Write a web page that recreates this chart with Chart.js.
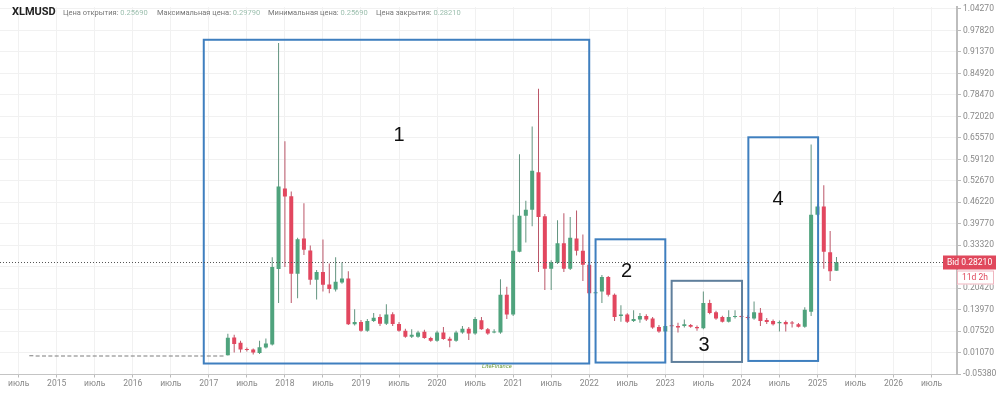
<!DOCTYPE html>
<html>
<head>
<meta charset="utf-8">
<script src="https://cdn.jsdelivr.net/npm/chart.js@4.4.1/dist/chart.umd.min.js"></script>
<style>
  body { margin: 0; background: #fff; }
  #wrap { position: relative; width: 996px; height: 393px; overflow: hidden; }
  #chart { position: absolute; left: 0; top: 0; }
  .hd { position: absolute; top: 8px; font: 7.5px Roboto, sans-serif; color: #777; white-space: nowrap; }
  .hd i { font-style: normal; color: #9cbfae; }
  #sym { position: absolute; left: 12px; top: 5px; font: bold 11px Roboto, sans-serif; color: #222; }
  #logo { position: absolute; left: 482px; top: 362px; font: italic 6px Roboto, sans-serif; color: #6f9c3c; }
</style>
</head>
<body>
<div id="wrap">
  <canvas id="chart" width="996" height="393"></canvas>
  <div id="sym">XLMUSD</div>
  <div class="hd" style="left:63px">Цена открытия: <i>0.25690</i></div>
  <div class="hd" style="left:157px">Максимальная цена: <i>0.29790</i></div>
  <div class="hd" style="left:268px">Минимальная цена: <i>0.25690</i></div>
  <div class="hd" style="left:376px">Цена закрытия: <i>0.28210</i></div>
  <div id="logo">LiteFinance</div>
</div>
<script>
// monthly candles, month 0 = Jan 2015, first candle Sep 2014
const firstMonth = -4;

const opens = [
  0.0028, 0.0027, 0.0027, 0.0027, 0.0027, 0.0027, 0.0027, 0.0027, 0.0027, 0.0027,
  0.0027, 0.0027, 0.0027, 0.0027, 0.0027, 0.0027, 0.0027, 0.0027, 0.0027, 0.0027,
  0.0027, 0.0027, 0.0027, 0.0027, 0.0027, 0.0027, 0.0027, 0.0027, 0.0027, 0.0027, 0.0027,
  0.0028, 0.0567, 0.0410, 0.0200, 0.0204, 0.0095, 0.0263, 0.0352, 0.2620, 0.5035,
  0.4808, 0.2481, 0.3533, 0.3179, 0.2296, 0.2531, 0.2157, 0.2006, 0.2216, 0.2334,
  0.0961, 0.1029, 0.0764, 0.1058, 0.1176, 0.0979, 0.1265, 0.0970, 0.0764, 0.0587,
  0.0587, 0.0734, 0.0549, 0.0469, 0.0714, 0.0528, 0.0469, 0.0714, 0.0823, 0.0684,
  0.1079, 0.0814, 0.0714, 0.0714, 0.1845, 0.1256, 0.3141, 0.4219, 0.4396, 0.5527,
  0.4201, 0.2628, 0.2805, 0.3394, 0.2628, 0.3533, 0.3170, 0.2746, 0.1892, 0.1942,
  0.2384, 0.1845, 0.1206, 0.1256, 0.1058, 0.1108, 0.1206, 0.1138, 0.0882, 0.0743,
  0.0911, 0.0911, 0.0911, 0.0940, 0.0882, 0.0843, 0.1597, 0.1324, 0.1176, 0.1038,
  0.1176, 0.1206, 0.1176, 0.1133, 0.1309, 0.1088, 0.1058, 0.0990, 0.1029, 0.0990,
  0.0961, 0.0890, 0.1338, 0.4248, 0.4496, 0.3120, 0.2569
];
const highs = [
  0.0028, 0.0027, 0.0027, 0.0027, 0.0027, 0.0027, 0.0027, 0.0027, 0.0027, 0.0027,
  0.0027, 0.0027, 0.0027, 0.0027, 0.0027, 0.0027, 0.0027, 0.0027, 0.0027, 0.0027,
  0.0027, 0.0027, 0.0027, 0.0027, 0.0027, 0.0027, 0.0027, 0.0027, 0.0027, 0.0027, 0.0027,
  0.0676, 0.0644, 0.0469, 0.0263, 0.0234, 0.0469, 0.0537, 0.2973, 0.9403, 0.6458,
  0.4947, 0.3562, 0.4593, 0.3326, 0.2590, 0.3503, 0.2788, 0.2973, 0.2826, 0.2552,
  0.1412, 0.1088, 0.1117, 0.1303, 0.1265, 0.1559, 0.1324, 0.1029, 0.0823, 0.0814,
  0.0764, 0.0794, 0.0587, 0.0764, 0.0882, 0.0587, 0.0764, 0.0911, 0.0882, 0.1176,
  0.1176, 0.0852, 0.0814, 0.2316, 0.2089, 0.4248, 0.6066, 0.4672, 0.6899, 0.8030,
  0.4269, 0.2885, 0.4083, 0.4298, 0.4181, 0.4378, 0.3659, 0.2885, 0.1971, 0.2443,
  0.2414, 0.1883, 0.1530, 0.1294, 0.1383, 0.1303, 0.1265, 0.1176, 0.0941, 0.0970,
  0.0955, 0.1008, 0.1108, 0.0970, 0.0926, 0.1942, 0.1697, 0.1368, 0.1220, 0.1383,
  0.1383, 0.1235, 0.1235, 0.1648, 0.1451, 0.1147, 0.1102, 0.1073, 0.1073, 0.1058,
  0.0999, 0.1471, 0.6360, 0.4564, 0.5132, 0.3759, 0.2979
];
const lows = [
  0.0028, 0.0027, 0.0027, 0.0027, 0.0027, 0.0027, 0.0027, 0.0027, 0.0027, 0.0027,
  0.0027, 0.0027, 0.0027, 0.0027, 0.0027, 0.0027, 0.0027, 0.0027, 0.0027, 0.0027,
  0.0027, 0.0027, 0.0027, 0.0027, 0.0027, 0.0027, 0.0027, 0.0027, 0.0027, 0.0027, 0.0027,
  0.0025, 0.0116, 0.0116, 0.0145, 0.0057, 0.0072, 0.0234, 0.0322, 0.1597, 0.2678,
  0.1597, 0.1745, 0.3041, 0.2148, 0.1706, 0.1942, 0.1892, 0.1942, 0.2178, 0.0941,
  0.0926, 0.0734, 0.0734, 0.1029, 0.0911, 0.0941, 0.0911, 0.0734, 0.0558, 0.0549,
  0.0558, 0.0528, 0.0440, 0.0440, 0.0499, 0.0272, 0.0440, 0.0676, 0.0490, 0.0646,
  0.0794, 0.0646, 0.0690, 0.0676, 0.1117, 0.1206, 0.3120, 0.3415, 0.3907, 0.2531,
  0.1992, 0.1992, 0.2767, 0.2531, 0.2590, 0.3023, 0.2257, 0.1854, 0.1854, 0.1597,
  0.1795, 0.1058, 0.1038, 0.0999, 0.1029, 0.1008, 0.1058, 0.0823, 0.0705, 0.0719,
  0.0853, 0.0714, 0.0861, 0.0853, 0.0764, 0.0808, 0.1265, 0.1094, 0.1014, 0.1014,
  0.1138, 0.1132, 0.1094, 0.1094, 0.0911, 0.0970, 0.0926, 0.0743, 0.0743, 0.0861,
  0.0867, 0.0853, 0.1206, 0.4210, 0.2628, 0.2257, 0.2569
];
const closes = [
  0.0028, 0.0027, 0.0027, 0.0027, 0.0027, 0.0027, 0.0027, 0.0027, 0.0027, 0.0027,
  0.0027, 0.0027, 0.0027, 0.0027, 0.0027, 0.0027, 0.0027, 0.0027, 0.0027, 0.0027,
  0.0027, 0.0027, 0.0027, 0.0027, 0.0027, 0.0027, 0.0027, 0.0027, 0.0027, 0.0027, 0.0027,
  0.0558, 0.0372, 0.0204, 0.0190, 0.0116, 0.0272, 0.0381, 0.2678, 0.5094, 0.4799,
  0.2481, 0.3512, 0.3200, 0.2296, 0.2531, 0.2148, 0.2022, 0.2237, 0.2334, 0.0961,
  0.1029, 0.0764, 0.1058, 0.1156, 0.0979, 0.1256, 0.0970, 0.0764, 0.0587, 0.0646,
  0.0714, 0.0549, 0.0469, 0.0714, 0.0519, 0.0469, 0.0714, 0.0823, 0.0684, 0.1117,
  0.0814, 0.0684, 0.0743, 0.1845, 0.1256, 0.3170, 0.4219, 0.4396, 0.5574, 0.4181,
  0.2628, 0.2826, 0.3394, 0.2628, 0.3562, 0.3170, 0.2746, 0.1892, 0.1920, 0.2384,
  0.1845, 0.1176, 0.1256, 0.1038, 0.1117, 0.1206, 0.1108, 0.0861, 0.0743, 0.0911,
  0.0905, 0.0861, 0.0961, 0.0890, 0.0843, 0.1597, 0.1303, 0.1138, 0.1038, 0.1176,
  0.1206, 0.1176, 0.1150, 0.1324, 0.1058, 0.1029, 0.0961, 0.1029, 0.0961, 0.0985,
  0.0890, 0.1396, 0.4248, 0.4496, 0.3141, 0.2552, 0.2821
];

const tickMonths = [-6, 0, 6, 12, 18, 24, 30, 36, 42, 48, 54, 60, 66, 72, 78, 84, 90, 96, 102, 108, 114, 120, 126, 132, 138];
const tickLabels = ['июль', '2015', 'июль', '2016', 'июль', '2017', 'июль', '2018', 'июль', '2019', 'июль', '2020', 'июль',
  '2021', 'июль', '2022', 'июль', '2023', 'июль', '2024', 'июль', '2025', 'июль', '2026', 'июль'];
const yTicks = [-0.0538, 0.0107, 0.0752, 0.1397, 0.2042, 0.2687, 0.3332, 0.3977, 0.4622, 0.5267, 0.5912,
  0.6557, 0.7202, 0.7847, 0.8492, 0.9137, 0.9782, 1.0427];

// highlighted zones: month range and price range
const zoneNames = ['1', '2', '3', '4'];
const zoneStart = [23.2, 85.0, 97.0, 109.1];
const zoneEnd = [84.0, 96.0, 108.1, 120.1];
const zoneTop = [0.9503, 0.3512, 0.2266, 0.6575];
const zoneBottom = [-0.0217, -0.0188, -0.0170, -0.0140];
const zoneLabelMonth = [54.0, 89.9, 102.1, 113.8];
const zoneLabelPrice = [0.6625, 0.2531, 0.0322, 0.4711];

const timeLeft = '11d 2h';

const upColor = '#4fa37d';
const downColor = '#e2475f';
const flatColor = '#7c7c7c';
const months = opens.map((_, i) => firstMonth + i);
const candleColor = i => closes[i] > opens[i] ? upColor : (closes[i] < opens[i] ? downColor : flatColor);
const wickColor = i => closes[i] > opens[i] ? '#62947f' : (closes[i] < opens[i] ? '#bb5668' : flatColor);
const bid = closes[closes.length - 1];

const overlay = {
  id: 'overlay',
  afterDatasetsDraw(chart) {
    const {ctx, scales: {x, y}} = chart;
    ctx.save();
    zoneNames.forEach((name, i) => {
      const x0 = x.getPixelForValue(zoneStart[i]);
      const x1 = x.getPixelForValue(zoneEnd[i]);
      const y0 = y.getPixelForValue(zoneTop[i]);
      const y1 = y.getPixelForValue(zoneBottom[i]);
      ctx.strokeStyle = i === 2 ? '#5f7f9c' : '#3f7fbf';
      ctx.lineWidth = 2;
      ctx.strokeRect(x0, y0, x1 - x0, y1 - y0);
      ctx.fillStyle = '#111';
      ctx.font = '20px "Liberation Sans", Arial, sans-serif';
      ctx.textAlign = 'center';
      ctx.textBaseline = 'middle';
      ctx.fillText(name, x.getPixelForValue(zoneLabelMonth[i]), y.getPixelForValue(zoneLabelPrice[i]));
    });
    ctx.restore();
  },
  afterDraw(chart) {
    const {ctx, scales: {y}, chartArea} = chart;
    const by = Math.round(y.getPixelForValue(bid)) + 0.5;
    const boxLeft = chart.width - 53;
    ctx.save();
    ctx.strokeStyle = '#555';
    ctx.lineWidth = 1;
    ctx.setLineDash([1, 2]);
    ctx.beginPath();
    ctx.moveTo(chartArea.left, by);
    ctx.lineTo(boxLeft, by);
    ctx.stroke();
    ctx.setLineDash([]);
    ctx.fillStyle = '#e0485c';
    ctx.fillRect(boxLeft, by - 7, 53, 14);
    ctx.fillStyle = '#fff';
    ctx.font = '8.5px Roboto, sans-serif';
    ctx.textAlign = 'left';
    ctx.textBaseline = 'middle';
    ctx.fillText('Bid ' + bid.toFixed(5), boxLeft + 4, by);
    ctx.fillStyle = '#fff';
    ctx.fillRect(chartArea.right, by + 8, 37, 14);
    ctx.strokeStyle = '#f0b5bf';
    ctx.strokeRect(chartArea.right + 0.5, by + 8.5, 36, 13);
    ctx.fillStyle = '#e0485c';
    ctx.fillText(timeLeft, chartArea.right + 5, by + 15);
    ctx.restore();
  }
};

new Chart(document.getElementById('chart'), {
  type: 'bar',
  data: {
    datasets: [{
      label: 'body',
      data: months.map((m, i) => ({x: m, y: [opens[i], closes[i]]})),
      backgroundColor: months.map((_, i) => candleColor(i)),
      barThickness: 4,
      minBarLength: 1,
      inflateAmount: 0,
      grouped: false,
      order: 0
    }, {
      label: 'wick',
      data: months.map((m, i) => ({x: m, y: [lows[i], highs[i]]})),
      backgroundColor: months.map((_, i) => wickColor(i)),
      barThickness: 1,
      inflateAmount: 0,
      grouped: false,
      order: 1
    }]
  },
  options: {
    responsive: false,
    animation: false,
    devicePixelRatio: 1,
    layout: {autoPadding: false, padding: 0},
    plugins: {
      legend: {display: false},
      tooltip: {enabled: false}
    },
    scales: {
      x: {
        type: 'linear',
        position: 'bottom',
        offset: false,
        min: -8.94,
        max: 142.01,
        afterFit: s => { s.height = 18.5; },
        afterBuildTicks: s => { s.ticks = tickMonths.map(v => ({value: v})); },
        ticks: {
          autoSkip: false,
          maxRotation: 0,
          color: '#888',
          padding: 1,
          font: {family: 'Roboto', size: 8.5},
          callback: (v, i) => tickLabels[i]
        },
        grid: {offset: false, color: '#f1f1f1', tickColor: '#bbb', tickLength: 3},
        border: {color: '#c4c4c4', width: 1}
      },
      y: {
        type: 'linear',
        position: 'right',
        min: -0.0547,
        max: 1.0484,
        afterFit: s => { s.width = 39; },
        afterBuildTicks: s => { s.ticks = yTicks.map(v => ({value: v})); },
        ticks: {
          color: '#888',
          padding: 2,
          font: {family: 'Roboto', size: 8.5},
          callback: v => v.toFixed(5)
        },
        grid: {color: '#f1f1f1', tickColor: '#bbb', tickLength: 4},
        border: {color: '#bdbdbd', width: 2}
      }
    }
  },
  plugins: [overlay]
});
</script>
</body>
</html>
